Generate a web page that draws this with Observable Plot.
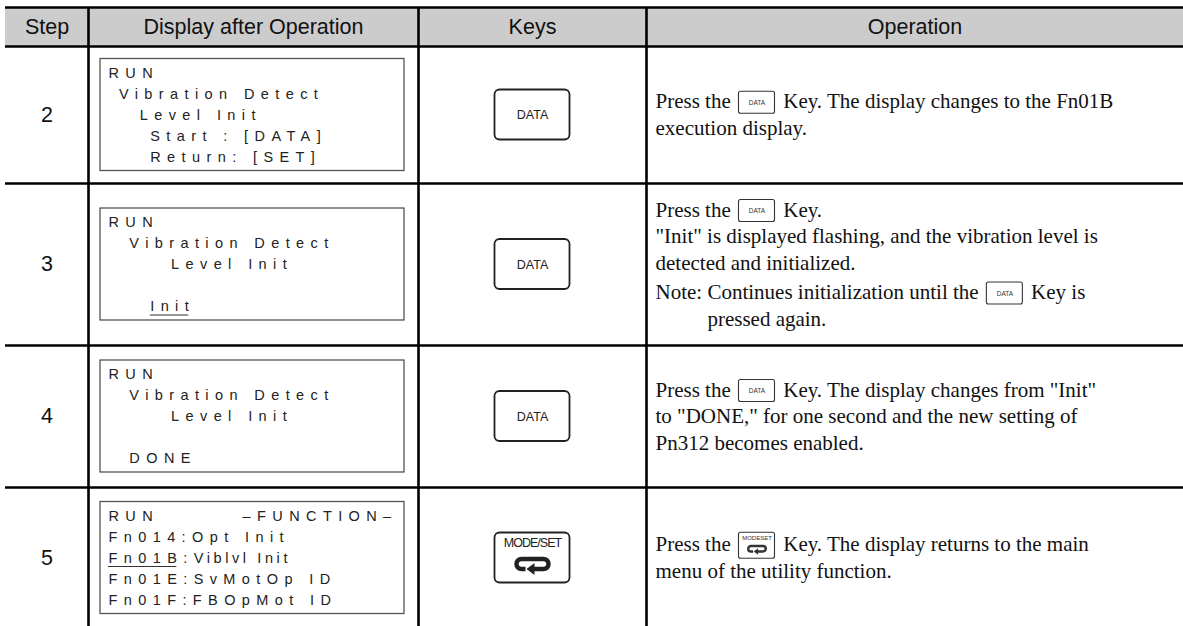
<!DOCTYPE html>
<html><head><meta charset="utf-8">
<script src="https://cdn.jsdelivr.net/npm/d3@7"></script>
<script src="https://cdn.jsdelivr.net/npm/@observablehq/plot@0.6"></script>
<style>
html,body{margin:0;padding:0;background:#fff;}
#chart svg{display:block;background:#fff;}
</style></head><body><div id="chart"></div>
<script>
// ---------- content ----------
const headers = ["Step", "Display after Operation", "Keys", "Operation"];
const steps = ["2", "3", "4", "5"];
const keyLabels = ["DATA", "DATA", "DATA", "MODE/SET"];
const displayLines = [
  ["RUN", " Vibration Detect", "   Level Init", "    Start : [DATA]", "    Return: [SET]"],
  ["RUN", "  Vibration Detect", "      Level Init", "", "    Init"],
  ["RUN", "  Vibration Detect", "      Level Init", "", "  DONE"],
  ["RUN        \u2013FUNCTION\u2013", "Fn014:Opt Init", "Fn01B:Viblvl Init", "Fn01E:SvMotOp ID", "Fn01F:FBOpMot ID"]
];
const displayUnderlines = [[1, 4, "Init"], [3, 2, "Fn01B"]];
const displayTight = [[3, 2, "Viblvl Init"]];
const operationLines = [
  ["Press the [DATA] Key. The display changes to the Fn01B", "execution display."],
  ["Press the [DATA] Key.", "\"Init\" is displayed flashing, and the vibration level is", "detected and initialized.", "Note: Continues initialization until the [DATA] Key is", "pressed again."],
  ["Press the [DATA] Key. The display changes from \"Init\"", "to \"DONE,\" for one second and the new setting of", "Pn312 becomes enabled."],
  ["Press the [MODE/SET] Key. The display returns to the main", "menu of the utility function."]
];

// ---------- layout ----------
const W = 1183, H = 626;
const colX = [5, 88, 418, 646, W];
const rowY = [7, 46, 183, 345, 487, 628];
const rowMid = r => (rowY[r + 1] + rowY[r + 2]) / 2;
const colMid = c => (colX[c] + colX[c + 1]) / 2;
const boxW = 304, boxH = 112, boxPad = 12;
const lcdSize = 14.5, lcdLS = 6.4, lcdTightLS = 3.6, lcdStep = 21;
const LCD_FAM = "Liberation Sans";
const LCD_TIGHT_FAM = "Liberation Sans, Arial";
const KEY_FAM = "Liberation Sans, Helvetica";
const SANS = "Liberation Sans, Arial, Helvetica, sans-serif";
const SERIF = "Liberation Serif, Times New Roman, serif";
const lcdFont = `${lcdSize}px "Liberation Sans"`;
const opSize = 21, opLH = 26.5, opFont = `${opSize}px "Liberation Serif"`;
const keyW = 75, keyH = 50;
const iconW = 36;

const ctx = document.createElement("canvas").getContext("2d");
function measure(str, font, ls = 0) { ctx.font = font; return ctx.measureText(str).width + ls * str.length; }

// display boxes & lcd text
const boxes = steps.map((s, r) => ({x1: colX[1] + boxPad, x2: colX[1] + boxPad + boxW, y1: rowMid(r) - boxH / 2, y2: rowMid(r) + boxH / 2}));
const lcdX0 = colX[1] + boxPad + 8;
const lcdY = (r, i) => rowMid(r) - boxH / 2 + 14 + i * lcdStep;
const lcdRuns = [], lcdTightRuns = [];
displayLines.forEach((lines, r) => {
  lines.forEach((line, i) => {
    const y = lcdY(r, i);
    const tight = displayTight.find(([tr, ti]) => tr === r && ti === i);
    let main = line;
    if (tight) {
      const k = line.indexOf(tight[2]);
      main = line.slice(0, k);
      lcdTightRuns.push({x: lcdX0 + measure(main, lcdFont, lcdLS), y, text: tight[2]});
    }
    const re = /\S+/g; let m;
    while ((m = re.exec(main))) lcdRuns.push({x: lcdX0 + measure(main.slice(0, m.index), lcdFont, lcdLS), y, text: m[0]});
  });
});
const lcdUnder = displayUnderlines.map(([r, i, sub]) => {
  const line = displayLines[r][i];
  const k = line.indexOf(sub);
  const x1 = lcdX0 + measure(line.slice(0, k), lcdFont, lcdLS);
  return {x1, x2: x1 + measure(sub, lcdFont, lcdLS) - lcdLS, y: lcdY(r, i) + 8.5};
});

// operation text with inline key icons
const opX0 = colX[3] + 9;
const opRuns = [], opIcons = [];
operationLines.forEach((lines, r) => {
  const offs = []; let o = 0;
  lines.forEach((ln, i) => { if (i > 0) o += opLH + (ln.startsWith("Note:") ? 3 : 0); offs.push(o); });
  const y0 = rowMid(r) - o / 2;
  let hang = 0;
  lines.forEach((ln, i) => {
    const y = y0 + offs[i];
    if (ln.startsWith("Note: ")) hang = 0;
    let x = opX0 + hang;
    ln.split(/(\[DATA\]|\[MODE\/SET\])/).forEach(p => {
      if (p === "[DATA]" || p === "[MODE/SET]") {
        opIcons.push({x1: x + 3, x2: x + 3 + iconW, y: y + 1, kind: p.slice(1, -1)});
        x += iconW + 6;
      } else if (p.length) {
        const lead = p.length - p.trimStart().length, t = p.trim();
        x += measure(" ".repeat(lead), opFont);
        if (t) { opRuns.push({x, y, text: t}); x += measure(t, opFont); }
        x += measure(" ".repeat(p.length - p.trimEnd().length), opFont);
      }
    });
    if (ln.startsWith("Note: ")) hang = measure("Note: ", opFont);
  });
});

// key buttons
const keys = keyLabels.map((k, r) => ({k, x: colMid(2), y: rowMid(r)}));

// custom symbols (return-loop of MODE/SET key)
const loopSym = {draw(c, size) {
  const s = Math.sqrt(size / Math.PI) / 10;
  c.moveTo(-7 * s, 5 * s); c.lineTo(-11 * s, 5 * s);
  c.arc(-11 * s, 0, 5 * s, Math.PI / 2, 3 * Math.PI / 2);
  c.lineTo(11 * s, -5 * s);
  c.arc(11 * s, 0, 5 * s, -Math.PI / 2, Math.PI / 2);
  c.lineTo(1 * s, 5 * s);
}};
const arrowSym = {draw(c, size) {
  const s = Math.sqrt(size / Math.PI) / 10;
  c.moveTo(-6 * s, 5 * s); c.lineTo(2 * s, -1 * s); c.lineTo(2 * s, 11 * s); c.closePath();
}};

const dataIcons = opIcons.filter(d => d.kind === "DATA");
const modeIcons = opIcons.filter(d => d.kind === "MODE/SET");
const modeKeys = keys.filter(d => d.k === "MODE/SET");
const dataKeys = keys.filter(d => d.k === "DATA");

const chart = Plot.plot({
  width: W, height: H, margin: 0,
  x: {domain: [0, W], range: [0, W], axis: null},
  y: {domain: [0, H], range: [0, H], axis: null},
  marks: [
    // header band
    Plot.rect([0], {x1: () => colX[0], x2: () => W, y1: () => rowY[0], y2: () => rowY[1], fill: "#cccccc"}),
    Plot.text(headers, {x: (d, i) => colMid(i), y: () => (rowY[0] + rowY[1]) / 2, text: d => d, fontSize: 21.5, fontFamily: SANS, fill: "#111"}),
    // grid lines
    Plot.ruleY(rowY.slice(0, 5), {x1: () => colX[0], x2: () => W, stroke: "#000", strokeWidth: 2.6}),
    Plot.ruleX(colX.slice(1, 4), {y1: () => rowY[0], y2: () => H, stroke: "#000", strokeWidth: 2.6}),
    // step numbers
    Plot.text(steps, {x: () => colMid(0), y: (d, i) => rowMid(i), text: d => d, fontSize: 21.5, fontFamily: SANS, fill: "#111"}),
    // display boxes
    Plot.rect(boxes, {x1: "x1", x2: "x2", y1: "y1", y2: "y2", fill: "none", stroke: "#555", strokeWidth: 1.3}),
    Plot.text(lcdRuns, {x: "x", y: "y", text: "text", textAnchor: "start", fontSize: lcdSize, fontFamily: LCD_FAM, fill: "#222"}),
    Plot.text(lcdTightRuns, {x: "x", y: "y", text: "text", textAnchor: "start", fontSize: lcdSize, fontFamily: LCD_TIGHT_FAM, fill: "#222"}),
    Plot.ruleY(lcdUnder, {x1: "x1", x2: "x2", y: "y", stroke: "#333", strokeWidth: 1.2}),
    // key buttons
    Plot.rect(keys, {x1: d => d.x - keyW / 2, x2: d => d.x + keyW / 2, y1: d => d.y - keyH / 2, y2: d => d.y + keyH / 2, rx: 5, fill: "#fff", stroke: "#222", strokeWidth: 1.8}),
    Plot.text(dataKeys, {x: "x", y: "y", text: "k", fontSize: 12.5, fontFamily: SANS, fill: "#222"}),
    Plot.text(modeKeys, {x: "x", y: d => d.y - 15, text: "k", fontSize: 12.5, fontFamily: KEY_FAM, fill: "#222"}),
    Plot.dot(modeKeys, {x: "x", y: d => d.y + 6, r: 10, symbol: loopSym, fill: "none", stroke: "#222", strokeWidth: 4.5}),
    Plot.dot(modeKeys, {x: "x", y: d => d.y + 6, r: 10, symbol: arrowSym, fill: "#222", stroke: "none"}),
    // operation text
    Plot.text(opRuns, {x: "x", y: "y", text: "text", textAnchor: "start", fontSize: opSize, fontFamily: SERIF, fill: "#111"}),
    // inline key icons
    Plot.rect(opIcons, {x1: "x1", x2: "x2", y1: d => d.y - (d.kind === "DATA" ? 11 : 13), y2: d => d.y + (d.kind === "DATA" ? 11 : 13), rx: 2, fill: "#fff", stroke: "#333", strokeWidth: 1.1}),
    Plot.text(dataIcons, {x: d => (d.x1 + d.x2) / 2, y: "y", text: () => "DATA", fontSize: 6.5, fontFamily: SANS, fill: "#333"}),
    Plot.text(modeIcons, {x: d => (d.x1 + d.x2) / 2, y: d => d.y - 7.5, text: () => "MODESET", fontSize: 6, fontFamily: SANS, fill: "#333"}),
    Plot.dot(modeIcons, {x: d => (d.x1 + d.x2) / 2, y: d => d.y + 3, r: 5.5, symbol: loopSym, fill: "none", stroke: "#333", strokeWidth: 2.4}),
    Plot.dot(modeIcons, {x: d => (d.x1 + d.x2) / 2, y: d => d.y + 3, r: 5.5, symbol: arrowSym, fill: "#333", stroke: "none"})
  ]
});
// letter spacing for the LCD display text and the condensed key caption
chart.querySelectorAll("g[font-family]").forEach(g => {
  const f = g.getAttribute("font-family");
  if (f === LCD_FAM) g.setAttribute("letter-spacing", lcdLS);
  if (f === LCD_TIGHT_FAM) g.setAttribute("letter-spacing", lcdTightLS);
  if (f === KEY_FAM) g.setAttribute("letter-spacing", -1);
});
document.getElementById("chart").appendChild(chart);
</script></body></html>
